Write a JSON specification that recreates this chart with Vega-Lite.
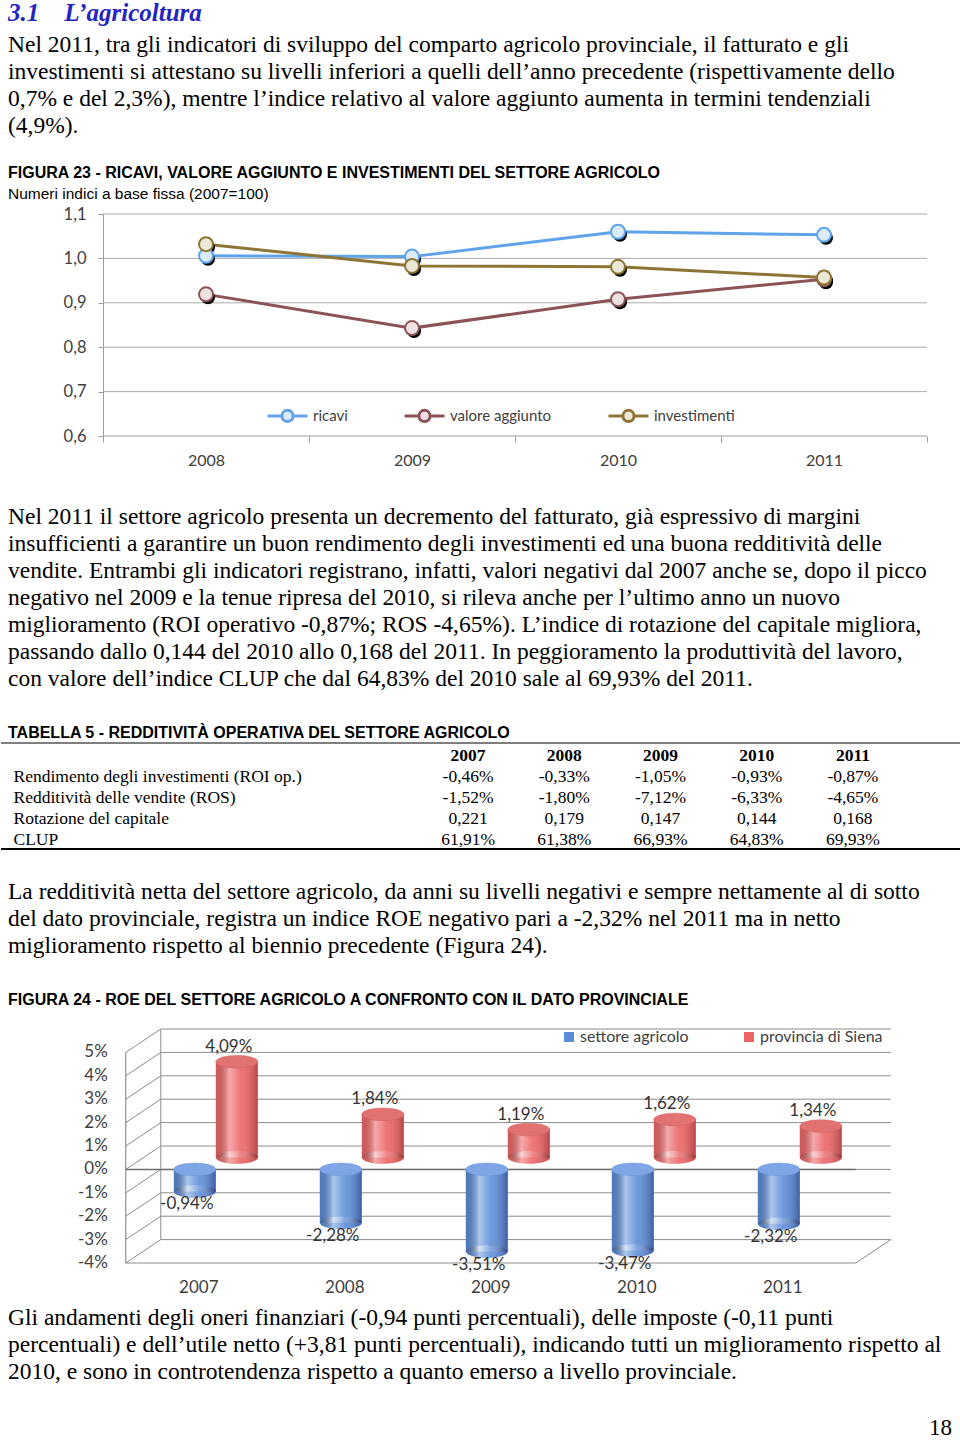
{
  "$schema": "https://vega.github.io/schema/vega-lite/v6.json",
  "padding": 0,
  "background": "white",
  "spacing": 0,
  "resolve": {
    "scale": {"fill": "independent", "stroke": "independent"},
    "legend": {"fill": "independent", "stroke": "independent"}
  },
  "config": {
    "view": {"stroke": null},
    "axis": {"grid": false, "labelAngle": 0},
    "locale": {"number": {"decimal": ",", "thousands": ".", "grouping": [3], "currency": ["€", ""], "minus": "-"}}
  },
  "vconcat": [
    {
      "width": 960, "height": 26,
      "data": {"values": [{"row": 0, "t": "3.1\u00a0\u00a0\u00a0\u00a0L’agricoltura"}]},
      "mark": {"type": "text", "align": "left", "baseline": "middle", "font": "Liberation Serif", "fontSize": 25, "fontWeight": "bold", "fontStyle": "italic", "color": "#2525BE"},
      "encoding": {
        "x": {"value": 7},
        "y": {"field": "row", "type": "ordinal", "scale": {"type": "point", "domain": [0]}, "axis": null},
        "text": {"field": "t"}
      }
    },
    {
      "width": 960, "height": 117,
      "data": {"values": [
        {"row": 0, "t": "Nel 2011, tra gli indicatori di sviluppo del comparto agricolo provinciale, il fatturato e gli"},
        {"row": 1, "t": "investimenti si attestano su livelli inferiori a quelli dell’anno precedente (rispettivamente dello"},
        {"row": 2, "t": "0,7% e del 2,3%), mentre l’indice relativo al valore aggiunto aumenta in termini tendenziali"},
        {"row": 3, "t": "(4,9%)."}
      ]},
      "mark": {"type": "text", "align": "left", "baseline": "middle", "font": "Liberation Serif", "fontSize": 23.5, "color": "#000000"},
      "encoding": {
        "x": {"value": 7},
        "y": {"field": "row", "type": "ordinal", "scale": {"type": "point", "domain": [0, 1, 2, 3], "padding": 0.667, "align": 0.52}, "axis": null},
        "text": {"field": "t"}
      }
    },
    {
      "width": 960, "height": 63,
      "layer": [
        {
          "data": {"values": [{"row": 0, "t": "FIGURA 23 - RICAVI, VALORE AGGIUNTO E INVESTIMENTI DEL SETTORE AGRICOLO"}]},
          "mark": {"type": "text", "align": "left", "baseline": "middle", "font": "Liberation Sans", "fontSize": 16, "fontWeight": "bold", "color": "#000000"},
          "encoding": {
            "x": {"value": 7},
            "y": {"field": "row", "type": "ordinal", "scale": {"type": "point", "domain": [0, 1], "padding": 1, "align": 0.714}, "axis": null},
            "text": {"field": "t"}
          }
        },
        {
          "data": {"values": [{"row": 1, "t": "Numeri indici a base fissa (2007=100)"}]},
          "mark": {"type": "text", "align": "left", "baseline": "middle", "font": "Liberation Sans", "fontSize": 15.5, "color": "#000000"},
          "encoding": {
            "x": {"value": 7},
            "y": {"field": "row", "type": "ordinal", "scale": {"type": "point", "domain": [0, 1], "padding": 1, "align": 0.714}, "axis": null},
            "text": {"field": "t"}
          }
        }
      ]
    },
    {
      "width": 926, "height": 222,
      "data": {"values": [
        {"anno": "2008", "serie": "ricavi", "v": 1.006},
        {"anno": "2009", "serie": "ricavi", "v": 1.004},
        {"anno": "2010", "serie": "ricavi", "v": 1.060},
        {"anno": "2011", "serie": "ricavi", "v": 1.053},
        {"anno": "2008", "serie": "valore aggiunto", "v": 0.919},
        {"anno": "2009", "serie": "valore aggiunto", "v": 0.843},
        {"anno": "2010", "serie": "valore aggiunto", "v": 0.908},
        {"anno": "2011", "serie": "valore aggiunto", "v": 0.953},
        {"anno": "2008", "serie": "investimenti", "v": 1.032},
        {"anno": "2009", "serie": "investimenti", "v": 0.983},
        {"anno": "2010", "serie": "investimenti", "v": 0.981},
        {"anno": "2011", "serie": "investimenti", "v": 0.957}
      ]},
      "layer": [
        {
          "data": {"values": [{"g": 0.7}, {"g": 0.8}, {"g": 0.9}, {"g": 1.0}, {"g": 1.1}]},
          "mark": {"type": "rule", "color": "#ABABAB", "strokeWidth": 1},
          "encoding": {
            "x": {"datum": "2008", "type": "ordinal", "bandPosition": 0, "title": null,
              "scale": {"type": "band", "domain": ["2008", "2009", "2010", "2011"], "paddingInner": 0, "paddingOuter": 0.2476, "align": 1},
              "axis": {"title": null, "labelAngle": 0, "tickBand": "extent", "tickSize": 6, "tickColor": "#9A9A9A", "domain": false, "labelPadding": 10, "labelFont": "Lato", "labelFontSize": 16, "labelColor": "#404040", "grid": false}},
            "x2": {"datum": "2011", "bandPosition": 1},
            "y": {"field": "g", "type": "quantitative", "title": null,
              "scale": {"domain": [0.6, 1.1], "nice": false, "zero": false},
              "axis": {"title": null, "offset": -102, "values": [0.6, 0.7, 0.8, 0.9, 1.0, 1.1], "format": ".1f", "grid": false, "domainColor": "#9A9A9A", "tickColor": "#9A9A9A", "tickSize": 5, "labelPadding": 12, "labelFont": "Lato", "labelFontSize": 16.5, "labelColor": "#404040", "labelOverlap": false, "minExtent": 0}}
          }
        },
        {
          "data": {"values": [{"g": 0.6}]},
          "mark": {"type": "rule", "color": "#9A9A9A", "strokeWidth": 1.2},
          "encoding": {
            "x": {"datum": "2008", "type": "ordinal", "bandPosition": 0, "title": null},
            "x2": {"datum": "2011", "bandPosition": 1},
            "y": {"field": "g", "type": "quantitative", "title": null}
          }
        },
        {
          "mark": {"type": "line", "strokeWidth": 3},
          "encoding": {
            "x": {"field": "anno", "type": "ordinal", "bandPosition": 0.5, "title": null},
            "y": {"field": "v", "type": "quantitative", "title": null},
            "stroke": {
              "field": "serie", "type": "nominal",
              "scale": {"domain": ["ricavi", "valore aggiunto", "investimenti"], "range": ["#5FA4EA", "#8C5357", "#8D7535"]},
              "legend": {"orient": "none", "legendX": 265, "legendY": 180, "direction": "horizontal", "columns": 3, "columnPadding": 50, "title": null, "padding": 0, "symbolType": "M-1,0L-0.3,0M0.3,0L1,0M-0.28,0A0.28,0.28,0,1,1,0.28,0A0.28,0.28,0,1,1,-0.28,0Z", "symbolSize": 1600, "symbolStrokeWidth": 3, "symbolFillColor": "#EEF2F6", "labelFont": "Lato", "labelFontSize": 15, "labelColor": "#404040", "labelOffset": 4}
            }
          }
        },
        {
          "mark": {"type": "point", "filled": true, "size": 196, "color": "#000000", "opacity": 1, "xOffset": 2, "yOffset": 3},
          "encoding": {
            "x": {"field": "anno", "type": "ordinal", "bandPosition": 0.5, "title": null},
            "y": {"field": "v", "type": "quantitative", "title": null},
            "detail": {"field": "serie", "type": "nominal"}
          }
        },
        {
          "mark": {"type": "point", "filled": true, "size": 196, "strokeWidth": 2, "opacity": 1},
          "encoding": {
            "x": {"field": "anno", "type": "ordinal", "bandPosition": 0.5, "title": null},
            "y": {"field": "v", "type": "quantitative", "title": null},
            "stroke": {
              "field": "serie", "type": "nominal",
              "scale": {"domain": ["ricavi", "valore aggiunto", "investimenti"], "range": ["#5FA4EA", "#8C5357", "#8D7535"]},
              "legend": {"orient": "none", "legendX": 265, "legendY": 180, "direction": "horizontal", "columns": 3, "columnPadding": 50, "title": null, "padding": 0, "symbolType": "M-1,0L-0.3,0M0.3,0L1,0M-0.28,0A0.28,0.28,0,1,1,0.28,0A0.28,0.28,0,1,1,-0.28,0Z", "symbolSize": 1600, "symbolStrokeWidth": 3, "symbolFillColor": "#EEF2F6", "labelFont": "Lato", "labelFontSize": 15, "labelColor": "#404040", "labelOffset": 4}
            },
            "fill": {
              "field": "serie", "type": "nominal",
              "scale": {"domain": ["ricavi", "valore aggiunto", "investimenti"], "range": ["#DCEBFA", "#EFE1E1", "#EBE9D5"]},
              "legend": null
            }
          }
        }
      ]
    },
    {
      "width": 960, "height": 274,
      "layer": [
        {
          "data": {"values": [
            {"row": 0, "t": "Nel 2011 il settore agricolo presenta un decremento del fatturato, già espressivo di margini"},
            {"row": 1, "t": "insufficienti a garantire un buon rendimento degli investimenti ed una buona redditività delle"},
            {"row": 2, "t": "vendite. Entrambi gli indicatori registrano, infatti, valori negativi dal 2007 anche se, dopo il picco"},
            {"row": 3, "t": "negativo nel 2009 e la tenue ripresa del 2010, si rileva anche per l’ultimo anno un nuovo"},
            {"row": 4, "t": "miglioramento (ROI operativo -0,87%; ROS -4,65%). L’indice di rotazione del capitale migliora,"},
            {"row": 5, "t": "passando dallo 0,144 del 2010 allo 0,168 del 2011. In peggioramento la produttività del lavoro,"},
            {"row": 6, "t": "con valore dell’indice CLUP che dal 64,83% del 2010 sale al 69,93% del 2011."}
          ]},
          "mark": {"type": "text", "align": "left", "baseline": "middle", "font": "Liberation Serif", "fontSize": 23.5, "color": "#000000"},
          "encoding": {
            "x": {"value": 7},
            "y": {"field": "row", "type": "ordinal", "scale": {"type": "point", "domain": [-1, 0, 1, 2, 3, 4, 5, 6, 7, 8], "padding": 0.574, "align": 0.71}, "axis": null},
            "text": {"field": "t"}
          }
        },
        {
          "data": {"values": [{"row": 8, "t": "TABELLA 5 - REDDITIVITÀ OPERATIVA DEL SETTORE AGRICOLO"}]},
          "mark": {"type": "text", "align": "left", "baseline": "middle", "font": "Liberation Sans", "fontSize": 16, "fontWeight": "bold", "color": "#000000"},
          "encoding": {
            "x": {"value": 7},
            "y": {"field": "row", "type": "ordinal", "scale": {"type": "point", "domain": [-1, 0, 1, 2, 3, 4, 5, 6, 7, 8], "padding": 0.574, "align": 0.71}, "axis": null},
            "text": {"field": "t"}
          }
        }
      ]
    },
    {
      "width": 960, "height": 106,
      "layer": [
        {
          "data": {"values": [{"k": 1}]},
          "mark": {"type": "rule", "color": "#000000", "strokeWidth": 1},
          "encoding": {
            "y": {"datum": "anno", "type": "ordinal", "bandPosition": 0, "title": null,
              "scale": {"type": "band", "domain": ["anno", "Rendimento degli investimenti (ROI op.)", "Redditività delle vendite (ROS)", "Rotazione del capitale", "CLUP"], "paddingInner": 0, "paddingOuter": 0}}
          }
        },
        {
          "data": {"values": [{"k": 1}]},
          "mark": {"type": "rule", "color": "#000000", "strokeWidth": 2},
          "encoding": {
            "y": {"datum": "CLUP", "type": "ordinal", "bandPosition": 1, "title": null}
          }
        },
        {
          "data": {"values": [
            {"ind": "Rendimento degli investimenti (ROI op.)", "anno": "2007", "val": "-0,46%"},
            {"ind": "Rendimento degli investimenti (ROI op.)", "anno": "2008", "val": "-0,33%"},
            {"ind": "Rendimento degli investimenti (ROI op.)", "anno": "2009", "val": "-1,05%"},
            {"ind": "Rendimento degli investimenti (ROI op.)", "anno": "2010", "val": "-0,93%"},
            {"ind": "Rendimento degli investimenti (ROI op.)", "anno": "2011", "val": "-0,87%"},
            {"ind": "Redditività delle vendite (ROS)", "anno": "2007", "val": "-1,52%"},
            {"ind": "Redditività delle vendite (ROS)", "anno": "2008", "val": "-1,80%"},
            {"ind": "Redditività delle vendite (ROS)", "anno": "2009", "val": "-7,12%"},
            {"ind": "Redditività delle vendite (ROS)", "anno": "2010", "val": "-6,33%"},
            {"ind": "Redditività delle vendite (ROS)", "anno": "2011", "val": "-4,65%"},
            {"ind": "Rotazione del capitale", "anno": "2007", "val": "0,221"},
            {"ind": "Rotazione del capitale", "anno": "2008", "val": "0,179"},
            {"ind": "Rotazione del capitale", "anno": "2009", "val": "0,147"},
            {"ind": "Rotazione del capitale", "anno": "2010", "val": "0,144"},
            {"ind": "Rotazione del capitale", "anno": "2011", "val": "0,168"},
            {"ind": "CLUP", "anno": "2007", "val": "61,91%"},
            {"ind": "CLUP", "anno": "2008", "val": "61,38%"},
            {"ind": "CLUP", "anno": "2009", "val": "66,93%"},
            {"ind": "CLUP", "anno": "2010", "val": "64,83%"},
            {"ind": "CLUP", "anno": "2011", "val": "69,93%"}
          ]},
          "mark": {"type": "text", "align": "center", "baseline": "middle", "font": "Liberation Serif", "fontSize": 17.5, "color": "#000000", "dy": 2},
          "encoding": {
            "x": {"field": "anno", "type": "ordinal", "title": null, "scale": {"type": "point", "domain": ["2007", "2008", "2009", "2010", "2011"], "range": [419, 900]}, "axis": null},
            "y": {"field": "ind", "type": "ordinal", "bandPosition": 0.5, "title": null,
              "axis": {"title": null, "domain": false, "ticks": false, "grid": false, "labelAlign": "left", "labelBaseline": "middle", "labelPadding": -12, "labelOffset": 2, "labelFont": "Liberation Serif", "labelFontSize": 17.5, "labelColor": "#000000", "labelLimit": 600, "labelExpr": "datum.value === 'anno' ? '' : datum.value", "minExtent": 0, "maxExtent": 0}},
            "text": {"field": "val"}
          }
        },
        {
          "data": {"values": [{"anno": "2007"}, {"anno": "2008"}, {"anno": "2009"}, {"anno": "2010"}, {"anno": "2011"}]},
          "mark": {"type": "text", "align": "center", "baseline": "middle", "font": "Liberation Serif", "fontSize": 17.5, "fontWeight": "bold", "color": "#000000", "dy": 2},
          "encoding": {
            "x": {"field": "anno", "type": "ordinal", "title": null, "axis": null},
            "y": {"datum": "anno", "type": "ordinal", "bandPosition": 0.5, "title": null},
            "text": {"field": "anno"}
          }
        }
      ]
    },
    {
      "width": 960, "height": 178,
      "layer": [
        {
          "data": {"values": [
            {"row": 0, "t": "La redditività netta del settore agricolo, da anni su livelli negativi e sempre nettamente al di sotto"},
            {"row": 1, "t": "del dato provinciale, registra un indice ROE negativo pari a -2,32% nel 2011 ma in netto"},
            {"row": 2, "t": "miglioramento rispetto al biennio precedente (Figura 24)."}
          ]},
          "mark": {"type": "text", "align": "left", "baseline": "middle", "font": "Liberation Serif", "fontSize": 23.5, "color": "#000000"},
          "encoding": {
            "x": {"value": 7},
            "y": {"field": "row", "type": "ordinal", "scale": {"type": "point", "domain": [-1, 0, 1, 2, 3, 4], "padding": 0.796, "align": 0.349}, "axis": null},
            "text": {"field": "t"}
          }
        },
        {
          "data": {"values": [{"row": 4, "t": "FIGURA 24 - ROE DEL SETTORE AGRICOLO A CONFRONTO CON IL DATO PROVINCIALE"}]},
          "mark": {"type": "text", "align": "left", "baseline": "middle", "font": "Liberation Sans", "fontSize": 16, "fontWeight": "bold", "color": "#000000"},
          "encoding": {
            "x": {"value": 7},
            "y": {"field": "row", "type": "ordinal", "scale": {"type": "point", "domain": [-1, 0, 1, 2, 3, 4], "padding": 0.796, "align": 0.349}, "axis": null},
            "text": {"field": "t"}
          }
        }
      ]
    },
    {
      "width": 890, "height": 234,
      "data": {"values": [
        {"anno": "2007", "serie": "settore agricolo", "v": -0.0094},
        {"anno": "2008", "serie": "settore agricolo", "v": -0.0228},
        {"anno": "2009", "serie": "settore agricolo", "v": -0.0351},
        {"anno": "2010", "serie": "settore agricolo", "v": -0.0347},
        {"anno": "2011", "serie": "settore agricolo", "v": -0.0232},
        {"anno": "2007", "serie": "provincia di Siena", "v": 0.0409},
        {"anno": "2008", "serie": "provincia di Siena", "v": 0.0184},
        {"anno": "2009", "serie": "provincia di Siena", "v": 0.0119},
        {"anno": "2010", "serie": "provincia di Siena", "v": 0.0162},
        {"anno": "2011", "serie": "provincia di Siena", "v": 0.0134}
      ]},
      "layer": [
        {
          "data": {"values": [{"g": -0.03}, {"g": -0.02}, {"g": -0.01}, {"g": 0.0}, {"g": 0.01}, {"g": 0.02}, {"g": 0.03}, {"g": 0.04}, {"g": 0.05}, {"g": 0.06}]},
          "mark": {"type": "rule", "color": "#8C8C8C", "strokeWidth": 1, "xOffset": 35, "x2Offset": 35},
          "encoding": {
            "x": {"datum": "2007", "type": "ordinal", "bandPosition": 0, "title": null,
              "scale": {"type": "band", "domain": ["2007", "2008", "2009", "2010", "2011"], "paddingInner": 0, "paddingOuter": 0.548, "align": 0.78},
              "axis": {"title": null, "labelAngle": 0, "ticks": false, "domain": false, "labelPadding": 16, "labelFont": "Lato", "labelFontSize": 17, "labelColor": "#404040"}},
            "x2": {"datum": "2011", "bandPosition": 1},
            "y": {"field": "g", "type": "quantitative", "title": null,
              "scale": {"domain": [-0.04, 0.06], "nice": false, "zero": false},
              "axis": {"title": null, "labels": false, "domain": false, "ticks": false, "grid": false, "minExtent": 0}}
          }
        },
        {
          "data": {"values": [{"a": -0.04, "b": -0.03}, {"a": -0.03, "b": -0.02}, {"a": -0.02, "b": -0.01}, {"a": -0.01, "b": 0.0}, {"a": 0.0, "b": 0.01}, {"a": 0.01, "b": 0.02}, {"a": 0.02, "b": 0.03}, {"a": 0.03, "b": 0.04}, {"a": 0.04, "b": 0.05}, {"a": 0.05, "b": 0.06}]},
          "mark": {"type": "rule", "color": "#8C8C8C", "strokeWidth": 1, "x2Offset": 35},
          "encoding": {
            "x": {"datum": "2007", "type": "ordinal", "bandPosition": 0, "title": null},
            "x2": {"datum": "2007", "bandPosition": 0},
            "y": {"field": "a", "type": "quantitative", "title": null},
            "y2": {"field": "b"}
          }
        },
        {
          "data": {"values": [{"a": -0.04}, {"a": -0.03}, {"a": -0.02}, {"a": -0.01}, {"a": 0.0}, {"a": 0.01}, {"a": 0.02}, {"a": 0.03}, {"a": 0.04}, {"a": 0.05}]},
          "mark": {"type": "text", "align": "right", "baseline": "middle", "font": "Lato", "fontSize": 17, "color": "#404040", "dx": -18},
          "encoding": {
            "x": {"datum": "2007", "type": "ordinal", "bandPosition": 0, "title": null},
            "y": {"field": "a", "type": "quantitative", "title": null},
            "text": {"field": "a", "type": "quantitative", "format": ".0%"}
          }
        },
        {
          "data": {"values": [{"a": -0.03, "b": 0.06}]},
          "mark": {"type": "rule", "color": "#8C8C8C", "strokeWidth": 1, "xOffset": 35},
          "encoding": {
            "x": {"datum": "2007", "type": "ordinal", "bandPosition": 0, "title": null},
            "y": {"field": "a", "type": "quantitative", "title": null},
            "y2": {"field": "b"}
          }
        },
        {
          "data": {"values": [{"a": -0.04, "b": 0.05}]},
          "mark": {"type": "rule", "color": "#7A7A7A", "strokeWidth": 1},
          "encoding": {
            "x": {"datum": "2007", "type": "ordinal", "bandPosition": 0, "title": null},
            "y": {"field": "a", "type": "quantitative", "title": null},
            "y2": {"field": "b"}
          }
        },
        {
          "data": {"values": [{"a": -0.04}]},
          "mark": {"type": "rule", "color": "#8C8C8C", "strokeWidth": 1},
          "encoding": {
            "x": {"datum": "2007", "type": "ordinal", "bandPosition": 0, "title": null},
            "x2": {"datum": "2011", "bandPosition": 1},
            "y": {"field": "a", "type": "quantitative", "title": null}
          }
        },
        {
          "data": {"values": [{"a": -0.04, "b": -0.03}]},
          "mark": {"type": "rule", "color": "#8C8C8C", "strokeWidth": 1, "x2Offset": 35},
          "encoding": {
            "x": {"datum": "2011", "type": "ordinal", "bandPosition": 1, "title": null},
            "x2": {"datum": "2011", "bandPosition": 1},
            "y": {"field": "a", "type": "quantitative", "title": null},
            "y2": {"field": "b"}
          }
        },
        {
          "data": {"values": [{"a": 0}]},
          "mark": {"type": "rule", "color": "#6E6E6E", "strokeWidth": 1.5},
          "encoding": {
            "x": {"datum": "2007", "type": "ordinal", "bandPosition": 0, "title": null},
            "x2": {"datum": "2011", "bandPosition": 1},
            "y": {"field": "a", "type": "quantitative", "title": null}
          }
        },
        {
          "transform": [{"filter": "datum.serie === 'settore agricolo'"}],
          "mark": {"type": "bar", "width": 42, "xOffset": -4, "x2Offset": -4},
          "encoding": {
            "x": {"field": "anno", "type": "ordinal", "title": null},
            "y": {"field": "v", "type": "quantitative", "title": null},
            "y2": {"datum": 0},
            "fill": {"field": "serie", "type": "nominal",
              "scale": {"domain": ["settore agricolo", "provincia di Siena"], "range": ["#5A8CD8", "#EC6464"]},
              "legend": {"orient": "none", "legendX": 560, "legendY": 0, "direction": "horizontal", "columns": 2, "columnPadding": 52, "title": null, "padding": 0, "symbolType": "square", "symbolSize": 100, "labelFont": "Lato", "labelFontSize": 16, "labelColor": "#404040", "labelOffset": 3}}
          }
        },
        {
          "transform": [{"filter": "datum.serie === 'settore agricolo'"}],
          "mark": {"type": "point", "filled": true, "opacity": 1, "shape": "M-1,0A1,0.3,0,1,0,1,0A1,0.3,0,1,0,-1,0Z", "size": 1764, "fill": "#5A8CD8", "strokeWidth": 0, "xOffset": -4},
          "encoding": {
            "x": {"field": "anno", "type": "ordinal", "bandPosition": 0.5, "title": null},
            "y": {"field": "v", "type": "quantitative", "title": null}
          }
        },
        {
          "transform": [{"filter": "datum.serie === 'settore agricolo'"}],
          "mark": {"type": "bar", "width": 42, "xOffset": -4, "x2Offset": -4,
            "fill": {"gradient": "linear", "x1": 0, "y1": 0, "x2": 1, "y2": 0, "stops": [{"offset": 0, "color": "rgba(0,0,0,0.12)"}, {"offset": 0.32, "color": "rgba(255,255,255,0.5)"}, {"offset": 0.6, "color": "rgba(255,255,255,0.12)"}, {"offset": 1, "color": "rgba(0,0,40,0.32)"}]}},
          "encoding": {
            "x": {"field": "anno", "type": "ordinal", "title": null},
            "y": {"field": "v", "type": "quantitative", "title": null},
            "y2": {"datum": 0}
          }
        },
        {
          "transform": [{"filter": "datum.serie === 'settore agricolo'"}],
          "mark": {"type": "point", "filled": true, "opacity": 1, "shape": "M-1,0A1,0.3,0,1,0,1,0A1,0.3,0,1,0,-1,0Z", "size": 1764, "strokeWidth": 0, "xOffset": -4,
            "fill": {"gradient": "linear", "x1": 0, "y1": 0, "x2": 1, "y2": 0, "stops": [{"offset": 0, "color": "rgba(0,0,0,0.12)"}, {"offset": 0.32, "color": "rgba(255,255,255,0.5)"}, {"offset": 0.6, "color": "rgba(255,255,255,0.12)"}, {"offset": 1, "color": "rgba(0,0,40,0.32)"}]}},
          "encoding": {
            "x": {"field": "anno", "type": "ordinal", "bandPosition": 0.5, "title": null},
            "y": {"field": "v", "type": "quantitative", "title": null}
          }
        },
        {
          "transform": [{"filter": "datum.serie === 'settore agricolo'"}],
          "mark": {"type": "point", "filled": true, "opacity": 1, "shape": "M-1,0A1,0.3,0,1,0,1,0A1,0.3,0,1,0,-1,0Z", "size": 1764, "fill": "#7EA6E6", "stroke": "#6A94D8", "strokeWidth": 0.5, "xOffset": -4},
          "encoding": {
            "x": {"field": "anno", "type": "ordinal", "bandPosition": 0.5, "title": null},
            "y": {"datum": 0, "type": "quantitative", "title": null}
          }
        },
        {
          "transform": [{"filter": "datum.serie === 'provincia di Siena'"}],
          "mark": {"type": "bar", "width": 42, "xOffset": 38, "x2Offset": 38, "yOffset": -12, "y2Offset": -12},
          "encoding": {
            "x": {"field": "anno", "type": "ordinal", "title": null},
            "y": {"field": "v", "type": "quantitative", "title": null},
            "y2": {"datum": 0},
            "fill": {"field": "serie", "type": "nominal",
              "scale": {"domain": ["settore agricolo", "provincia di Siena"], "range": ["#5A8CD8", "#EC6464"]},
              "legend": {"orient": "none", "legendX": 560, "legendY": 0, "direction": "horizontal", "columns": 2, "columnPadding": 52, "title": null, "padding": 0, "symbolType": "square", "symbolSize": 100, "labelFont": "Lato", "labelFontSize": 16, "labelColor": "#404040", "labelOffset": 3}}
          }
        },
        {
          "transform": [{"filter": "datum.serie === 'provincia di Siena'"}],
          "mark": {"type": "point", "filled": true, "opacity": 1, "shape": "M-1,0A1,0.3,0,1,0,1,0A1,0.3,0,1,0,-1,0Z", "size": 1764, "fill": "#EC6464", "strokeWidth": 0, "xOffset": 38, "yOffset": -12},
          "encoding": {
            "x": {"field": "anno", "type": "ordinal", "bandPosition": 0.5, "title": null},
            "y": {"datum": 0, "type": "quantitative", "title": null}
          }
        },
        {
          "transform": [{"filter": "datum.serie === 'provincia di Siena'"}],
          "mark": {"type": "bar", "width": 42, "xOffset": 38, "x2Offset": 38, "yOffset": -12, "y2Offset": -12,
            "fill": {"gradient": "linear", "x1": 0, "y1": 0, "x2": 1, "y2": 0, "stops": [{"offset": 0, "color": "rgba(0,0,0,0.1)"}, {"offset": 0.32, "color": "rgba(255,255,255,0.45)"}, {"offset": 0.6, "color": "rgba(255,255,255,0.1)"}, {"offset": 1, "color": "rgba(60,0,0,0.3)"}]}},
          "encoding": {
            "x": {"field": "anno", "type": "ordinal", "title": null},
            "y": {"field": "v", "type": "quantitative", "title": null},
            "y2": {"datum": 0}
          }
        },
        {
          "transform": [{"filter": "datum.serie === 'provincia di Siena'"}],
          "mark": {"type": "point", "filled": true, "opacity": 1, "shape": "M-1,0A1,0.3,0,1,0,1,0A1,0.3,0,1,0,-1,0Z", "size": 1764, "strokeWidth": 0, "xOffset": 38, "yOffset": -12,
            "fill": {"gradient": "linear", "x1": 0, "y1": 0, "x2": 1, "y2": 0, "stops": [{"offset": 0, "color": "rgba(0,0,0,0.1)"}, {"offset": 0.32, "color": "rgba(255,255,255,0.45)"}, {"offset": 0.6, "color": "rgba(255,255,255,0.1)"}, {"offset": 1, "color": "rgba(60,0,0,0.3)"}]}},
          "encoding": {
            "x": {"field": "anno", "type": "ordinal", "bandPosition": 0.5, "title": null},
            "y": {"datum": 0, "type": "quantitative", "title": null}
          }
        },
        {
          "transform": [{"filter": "datum.serie === 'provincia di Siena'"}],
          "mark": {"type": "point", "filled": true, "opacity": 1, "shape": "M-1,0A1,0.3,0,1,0,1,0A1,0.3,0,1,0,-1,0Z", "size": 1764, "fill": "#E27272", "stroke": "#D05A5A", "strokeWidth": 0.5, "xOffset": 38, "yOffset": -12},
          "encoding": {
            "x": {"field": "anno", "type": "ordinal", "bandPosition": 0.5, "title": null},
            "y": {"field": "v", "type": "quantitative", "title": null}
          }
        },
        {
          "transform": [{"filter": "datum.serie === 'provincia di Siena'"}],
          "mark": {"type": "text", "font": "Lato", "fontSize": 17, "color": "#333333", "baseline": "middle", "dx": 30, "dy": -27},
          "encoding": {
            "x": {"field": "anno", "type": "ordinal", "bandPosition": 0.5, "title": null},
            "y": {"field": "v", "type": "quantitative", "title": null},
            "text": {"field": "v", "type": "quantitative", "format": ".2%"}
          }
        },
        {
          "transform": [{"filter": "datum.serie === 'settore agricolo'"}],
          "mark": {"type": "text", "font": "Lato", "fontSize": 17, "color": "#333333", "baseline": "middle", "dx": -12, "dy": 13},
          "encoding": {
            "x": {"field": "anno", "type": "ordinal", "bandPosition": 0.5, "title": null},
            "y": {"field": "v", "type": "quantitative", "title": null},
            "text": {"field": "v", "type": "quantitative", "format": ".2%"}
          }
        }
      ]
    },
    {
      "width": 960, "height": 147,
      "layer": [
        {
          "data": {"values": [
            {"row": 0, "t": "Gli andamenti degli oneri finanziari (-0,94 punti percentuali), delle imposte (-0,11 punti"},
            {"row": 1, "t": "percentuali) e dell’utile netto (+3,81 punti percentuali), indicando tutti un miglioramento rispetto al"},
            {"row": 2, "t": "2010, e sono in controtendenza rispetto a quanto emerso a livello provinciale."}
          ]},
          "mark": {"type": "text", "align": "left", "baseline": "middle", "font": "Liberation Serif", "fontSize": 23.5, "color": "#000000"},
          "encoding": {
            "x": {"value": 7},
            "y": {"field": "row", "type": "ordinal", "scale": {"type": "point", "domain": [0, 1, 2, 3, 4], "padding": 0.722, "align": 0.59}, "axis": null},
            "text": {"field": "t"}
          }
        },
        {
          "data": {"values": [{"row": 4, "t": "18"}]},
          "mark": {"type": "text", "align": "right", "baseline": "middle", "font": "Liberation Serif", "fontSize": 23, "color": "#000000", "dy": 2},
          "encoding": {
            "x": {"value": 951},
            "y": {"field": "row", "type": "ordinal", "scale": {"type": "point", "domain": [0, 1, 2, 3, 4], "padding": 0.722, "align": 0.59}, "axis": null},
            "text": {"field": "t"}
          }
        }
      ]
    }
  ]
}
